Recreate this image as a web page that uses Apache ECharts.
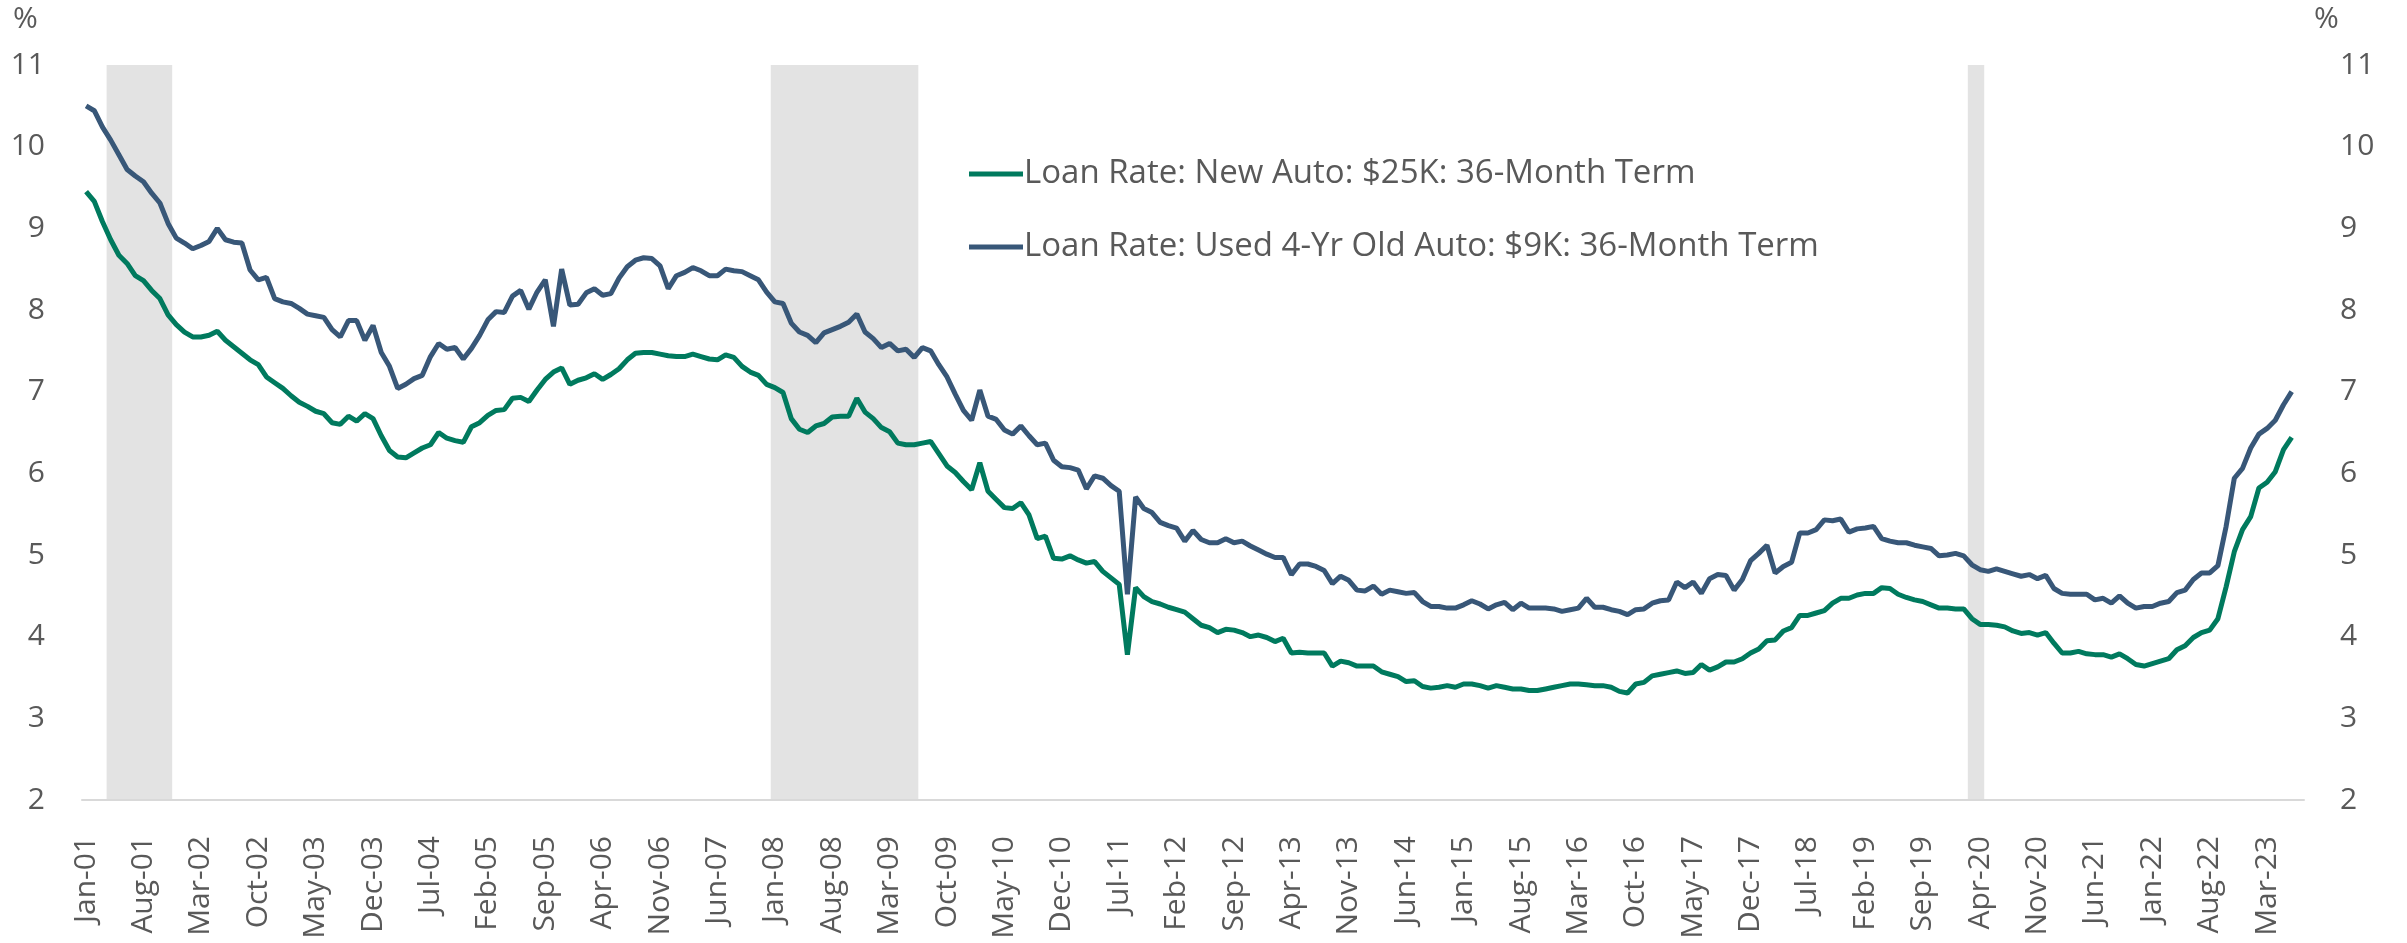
<!DOCTYPE html>
<html>
<head>
<meta charset="utf-8">
<script src="https://cdn.jsdelivr.net/npm/echarts@6/dist/echarts.min.js"></script>
<style>
html,body{margin:0;padding:0;background:#ffffff;}
#chart{width:2407px;height:943px;}
</style>
</head>
<body>
<div id="chart"></div>
<script>
// ---- Categories (monthly, Jan-01 .. Jul-23) ----
const monthNames = ['Jan','Feb','Mar','Apr','May','Jun','Jul','Aug','Sep','Oct','Nov','Dec'];
const startYear = 2001;
const monthCount = 271;
const categories = [];
for (let i = 0; i < monthCount; i++) {
  const y = startYear + Math.floor(i / 12);
  categories.push(monthNames[i % 12] + '-' + String(y % 100).padStart(2, '0'));
}

// ---- Series values (%), one per month from Jan-01 ----
const newAuto = [
 9.45,9.33,9.08,8.86,8.67,8.57,8.42,8.36,8.24,8.14,7.94,7.82,
 7.73,7.67,7.67,7.69,7.74,7.63,7.55,7.47,7.39,7.33,7.18,7.11,
 7.04,6.95,6.87,6.82,6.76,6.73,6.62,6.60,6.70,6.64,6.73,6.67,
 6.46,6.28,6.20,6.19,6.25,6.31,6.35,6.50,6.43,6.40,6.38,6.57,
 6.62,6.71,6.77,6.78,6.92,6.93,6.88,7.02,7.15,7.24,7.29,7.09,
 7.14,7.17,7.22,7.15,7.21,7.28,7.39,7.47,7.48,7.48,7.46,7.44,
 7.43,7.43,7.46,7.43,7.40,7.39,7.45,7.42,7.31,7.24,7.20,7.09,
 7.05,6.99,6.67,6.54,6.50,6.58,6.61,6.69,6.70,6.70,6.92,6.75,
 6.67,6.56,6.51,6.37,6.35,6.35,6.37,6.39,6.24,6.09,6.01,5.90,
 5.80,6.13,5.78,5.68,5.58,5.57,5.64,5.49,5.20,5.23,4.96,4.95,
 4.99,4.94,4.90,4.92,4.80,4.72,4.64,3.78,4.60,4.49,4.43,4.40,
 4.36,4.33,4.30,4.22,4.14,4.11,4.05,4.09,4.08,4.05,4.00,4.02,
 3.99,3.94,3.98,3.80,3.81,3.80,3.80,3.80,3.64,3.70,3.68,3.64,
 3.64,3.64,3.57,3.54,3.51,3.45,3.46,3.39,3.37,3.38,3.40,3.38,
 3.42,3.42,3.40,3.37,3.40,3.38,3.36,3.36,3.34,3.34,3.36,3.38,
 3.40,3.42,3.42,3.41,3.40,3.40,3.38,3.33,3.31,3.42,3.44,3.52,
 3.54,3.56,3.58,3.55,3.56,3.66,3.59,3.63,3.69,3.69,3.73,3.80,
 3.85,3.95,3.96,4.07,4.11,4.26,4.26,4.29,4.32,4.41,4.47,4.47,
 4.51,4.53,4.53,4.60,4.59,4.52,4.48,4.45,4.43,4.39,4.35,4.35,
 4.34,4.34,4.22,4.15,4.15,4.14,4.12,4.07,4.04,4.05,4.02,4.05,
 3.92,3.80,3.80,3.82,3.79,3.78,3.78,3.75,3.79,3.73,3.66,3.64,
 3.67,3.70,3.73,3.84,3.89,3.99,4.05,4.08,4.22,4.61,5.04,5.31,
 5.47,5.82,5.89,6.02,6.29,6.44
];
const usedAuto = [
 10.50,10.44,10.24,10.08,9.90,9.72,9.64,9.57,9.43,9.31,9.06,8.88,
 8.82,8.75,8.79,8.84,9.00,8.86,8.83,8.82,8.49,8.37,8.40,8.14,
 8.10,8.08,8.02,7.95,7.93,7.91,7.76,7.67,7.87,7.87,7.63,7.81,
 7.48,7.31,7.04,7.09,7.16,7.20,7.43,7.59,7.52,7.54,7.40,7.53,
 7.69,7.88,7.98,7.97,8.17,8.24,8.01,8.22,8.37,7.80,8.50,8.06,
 8.07,8.21,8.26,8.18,8.20,8.39,8.53,8.61,8.64,8.63,8.54,8.26,
 8.42,8.46,8.52,8.48,8.42,8.42,8.50,8.48,8.47,8.42,8.37,8.22,
 8.10,8.08,7.84,7.73,7.69,7.60,7.72,7.76,7.80,7.85,7.95,7.73,
 7.65,7.54,7.59,7.50,7.52,7.42,7.54,7.50,7.33,7.18,6.97,6.77,
 6.65,7.02,6.70,6.66,6.53,6.48,6.58,6.46,6.35,6.37,6.16,6.08,
 6.07,6.04,5.81,5.97,5.94,5.85,5.78,4.52,5.71,5.57,5.52,5.40,
 5.36,5.33,5.17,5.30,5.19,5.15,5.15,5.20,5.15,5.17,5.11,5.06,
 5.01,4.97,4.97,4.76,4.89,4.89,4.86,4.81,4.65,4.74,4.69,4.57,
 4.56,4.62,4.52,4.57,4.55,4.53,4.54,4.43,4.37,4.37,4.35,4.35,
 4.39,4.44,4.40,4.34,4.39,4.42,4.33,4.41,4.35,4.35,4.35,4.34,
 4.31,4.33,4.35,4.47,4.36,4.36,4.33,4.31,4.27,4.33,4.34,4.41,
 4.44,4.45,4.67,4.60,4.67,4.53,4.71,4.76,4.75,4.57,4.70,4.93,
 5.02,5.12,4.78,4.86,4.91,5.27,5.27,5.31,5.43,5.42,5.44,5.28,
 5.32,5.33,5.35,5.20,5.17,5.15,5.15,5.12,5.10,5.08,4.99,5.00,
 5.02,4.99,4.88,4.82,4.80,4.83,4.80,4.77,4.74,4.76,4.71,4.75,
 4.59,4.53,4.52,4.52,4.52,4.45,4.47,4.41,4.50,4.41,4.35,4.37,
 4.37,4.41,4.43,4.54,4.57,4.70,4.78,4.78,4.87,5.35,5.94,6.06,
 6.31,6.48,6.55,6.65,6.84,7.00
];

// ---- Recession periods (shaded), first and last month ----
const recessions = [['Apr-01','Nov-01'],['Jan-08','Jun-09'],['Mar-20','Apr-20']];

// ---- Axis settings ----
const yMin = 2, yMax = 11, yStep = 1;
const seriesNames = ['Loan Rate: New Auto: $25K: 36-Month Term', 'Loan Rate: Used 4-Yr Old Auto: $9K: 36-Month Term'];

const recessionSpans = recessions.map(([a, b]) => [categories.indexOf(a), categories.indexOf(b)]);

const FONT = 'Open Sans';
const TXT = '#595959';
const GREEN = '#007A5E';
const BLUE = '#385778';
const SHADE = '#e3e3e3';

const chart = echarts.init(document.getElementById('chart'), null, {renderer: 'canvas'});
const yLabelStyle = {fontFamily: FONT, fontSize: 30, color: TXT};
chart.setOption({
  animation: false,
  backgroundColor: '#ffffff',
  grid: {left: 82, right: 103, top: 65, bottom: 143, containLabel: false},
  legend: {
    orient: 'vertical',
    left: 964,
    top: 148,
    icon: 'rect',
    itemWidth: 54,
    itemHeight: 5,
    itemGap: 31,
    data: seriesNames,
    textStyle: {fontFamily: FONT, fontSize: 33, color: TXT, lineHeight: 42, padding: [0, 0, 0, -4]}
  },
  xAxis: {
    type: 'category',
    data: categories,
    boundaryGap: true,
    axisLine: {onZero: false, lineStyle: {color: '#d9d9d9', width: 2}},
    axisTick: {interval: 6, length: 12, lineStyle: {color: '#d9d9d9', width: 2}},
    axisLabel: {interval: 6, rotate: 90, margin: 36, fontFamily: FONT, fontSize: 30, color: TXT},
    splitLine: {show: false}
  },
  yAxis: [
    {type: 'value', position: 'left', min: yMin, max: yMax, interval: yStep,
     axisLine: {show: false}, axisTick: {show: false}, splitLine: {show: false},
     axisLabel: Object.assign({margin: 37}, yLabelStyle)},
    {type: 'value', position: 'right', min: yMin, max: yMax, interval: yStep,
     axisLine: {show: false}, axisTick: {show: false}, splitLine: {show: false},
     axisLabel: Object.assign({margin: 36}, yLabelStyle)},
    {type: 'value', min: 0, max: 1, show: false}
  ],
  graphic: [
    {type: 'text', left: 13, top: 4, style: {text: '%', font: '30px "Open Sans"', fill: TXT}},
    {type: 'text', left: 2314, top: 4, style: {text: '%', font: '30px "Open Sans"', fill: TXT}}
  ],
  series: [
    {type: 'custom', name: 'Recession', yAxisIndex: 2, data: recessionSpans,
     dimensions: ['start', 'end'], encode: {x: [0, 1]},
     silent: true, z: 0, clip: true,
     renderItem: function (params, api) {
       const bw = api.size([1, 0])[0];
       const p0 = api.coord([api.value(0), 1]);
       const p1 = api.coord([api.value(1), 0]);
       const x0 = p0[0] - bw / 2;
       const x1 = p1[0] + bw / 2;
       return {
         type: 'rect',
         shape: {x: x0, y: p0[1], width: x1 - x0, height: p1[1] - p0[1]},
         style: {fill: SHADE}
       };
     }},
    {type: 'line', name: seriesNames[0], yAxisIndex: 0, data: newAuto,
     symbol: 'none', lineStyle: {color: GREEN, width: 5}, itemStyle: {color: GREEN}, z: 3},
    {type: 'line', name: seriesNames[1], yAxisIndex: 0, data: usedAuto,
     symbol: 'none', lineStyle: {color: BLUE, width: 5}, itemStyle: {color: BLUE}, z: 4}
  ]
});
</script>
</body>
</html>
